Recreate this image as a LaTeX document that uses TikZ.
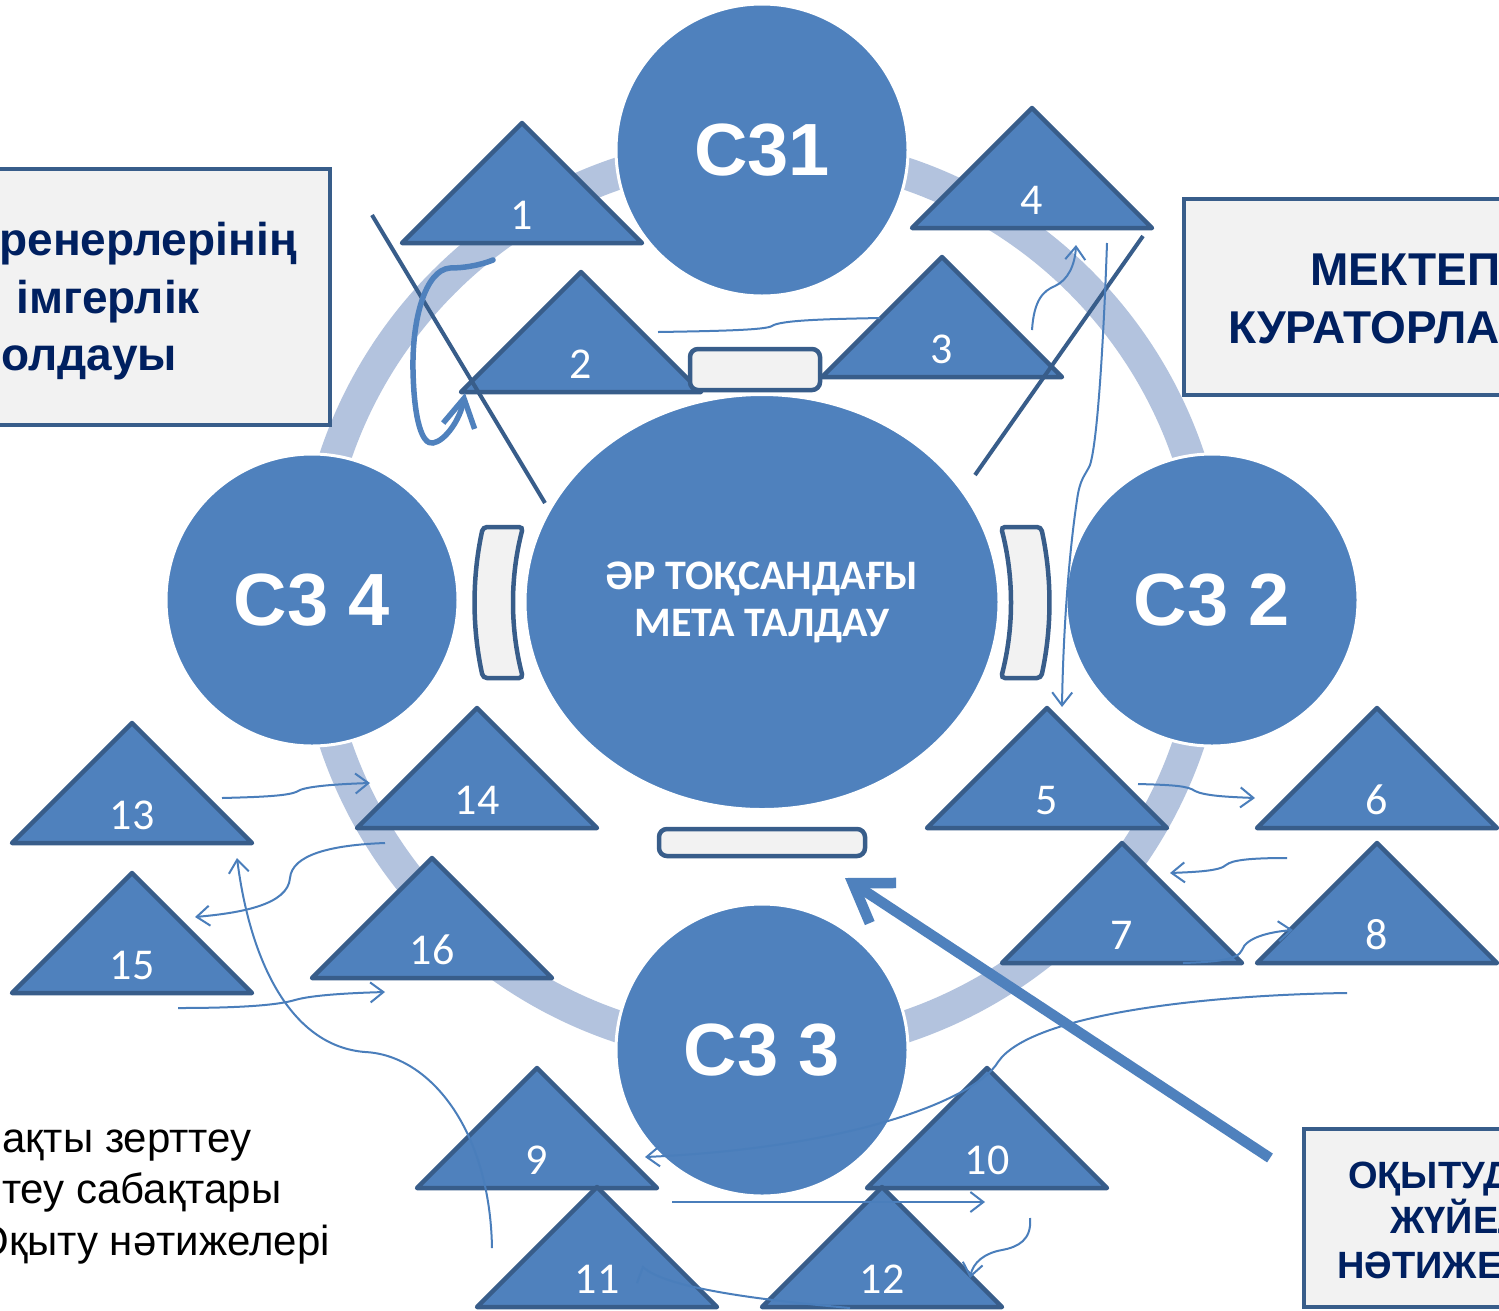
\documentclass[tikz,border=0pt]{standalone}
\usepackage{fontspec}
\setmainfont{Liberation Sans}
\newfontfamily\calibri{Carlito}
\usetikzlibrary{arrows.meta,shapes.geometric}
\definecolor{mainblue}{HTML}{4F81BD}
\definecolor{darkline}{HTML}{385D8A}
\definecolor{ringblue}{HTML}{B3C3DE}
\definecolor{connblue}{HTML}{4A7EBB}
\definecolor{navy}{HTML}{002060}
\definecolor{boxgray}{HTML}{F2F2F2}
\newcommand\mytri[4]{%
  \path[tripath] ({#2-120},#3) -- (#2,{#3-120}) -- ({#2+120},#3) -- cycle;
  \node[trilabel] (#1) at (#2,{#3-14}) {#4};}
\begin{document}
\begin{tikzpicture}[x=1pt,y=-1pt,
  bigcircle/.style={circle, fill=mainblue, draw=white, line width=3pt, minimum size=292pt, inner sep=0pt, text=white, font=\bfseries\fontsize{74}{80}\selectfont},
  tripath/.style={fill=mainblue, draw=darkline, line width=4.5pt, line join=round},
  trilabel/.style={text=white, font=\calibri\fontsize{44}{48}\selectfont, anchor=base, inner sep=0pt},
  grayshape/.style={fill=boxgray, draw=darkline, line width=4.5pt, rounded corners=8pt},
  textbox/.style={fill=boxgray, draw=darkline, line width=4pt, inner sep=0pt},
  boxtext/.style={text=navy, font=\bfseries\fontsize{46}{52}\selectfont, inner sep=0pt},
  smalltext/.style={text=navy, font=\bfseries\fontsize{38}{44}\selectfont, inner sep=0pt, anchor=base west},
  plaintext/.style={text=black, font=\fontsize{42}{48}\selectfont, inner sep=0pt, anchor=base east},
  conn/.style={draw=connblue, line width=2pt, -{Straight Barb[length=13pt,width=20pt]}},
  conn0/.style={draw=connblue, line width=2pt},
  crossline/.style={draw=darkline, line width=4pt},
  thickarrow/.style={draw=mainblue, line width=5.5pt, line cap=round, -{Straight Barb[length=28pt,width=32pt]}},
  bigarrow/.style={draw=mainblue, line width=10.5pt, -{Straight Barb[length=36pt,width=48pt]}},
]
\useasboundingbox (0,0) rectangle (1499,1310);
\clip (0,0) rectangle (1499,1310);
\fill[white] (0,0) rectangle (1499,1310);

% ring
\draw[ringblue, line width=32pt] (762,600) circle[radius=450pt];

% circles
\node[bigcircle] (c1) at (762,150) {C31};
\node[bigcircle] (c2) at (1212,600) {C3 2};
\node[bigcircle] (c3) at (762,1050) {C3 3};
\node[bigcircle] (c4) at (312,600) {C3 4};

% central ellipse
\node[ellipse, fill=mainblue, draw=white, line width=3pt, minimum width=474pt, minimum height=415pt, inner sep=0pt, text=white, align=center, font=\calibri\bfseries\fontsize{42}{47}\selectfont] (meta) at (762,602) {ӘР ТОҚСАНДАҒЫ\\МЕТА ТАЛДАУ};

% triangles
\mytri{t1}{522}{243}{1}
\mytri{t2}{581}{392}{2}
\mytri{t3}{942}{377}{3}
\mytri{t4}{1032}{228}{4}
\mytri{t5}{1047}{828}{5}
\mytri{t6}{1377}{828}{6}
\mytri{t7}{1122}{963}{7}
\mytri{t8}{1377}{963}{8}
\mytri{t9}{537}{1188}{9}
\mytri{t10}{987}{1188}{10}
\mytri{t11}{597}{1307}{11}
\mytri{t12}{882}{1307}{12}
\mytri{t13}{132}{843}{13}
\mytri{t14}{477}{828}{14}
\mytri{t15}{132}{993}{15}
\mytri{t16}{432}{978}{16}

% gray rectangles and brackets
\node[grayshape, minimum width=130pt, minimum height=41pt, inner sep=0pt] (rtop) at (755,369.5) {};
\node[grayshape, minimum width=206pt, minimum height=27pt, inner sep=0pt] (rbot) at (762,842.5) {};
\path[grayshape, rounded corners=4pt] (483,527) .. controls (472,577) and (472,628) .. (483,678) -- (523,678) .. controls (510,628) and (510,577) .. (523,527) -- cycle;
\path[grayshape, rounded corners=4pt] (1041,527) .. controls (1052,577) and (1052,628) .. (1041,678) -- (1001,678) .. controls (1014,628) and (1014,577) .. (1001,527) -- cycle;

% text boxes
\node[textbox, anchor=north west, minimum width=348pt, minimum height=256pt] (lbox) at (-20,167) {};
\node[boxtext, anchor=base east] (l1) at (297,255) {ренерлерінің};
\node[boxtext, anchor=base east] (l2) at (200,313) {імгерлік};
\node[boxtext, anchor=base west] (l3) at (1,370) {олдауы};

\node[textbox, anchor=north west, minimum width=338pt, minimum height=196pt] (rbox) at (1182,197) {};
\node[boxtext, anchor=base west] (r1) at (1310,285) {МЕКТЕП};
\node[boxtext, anchor=base west] (r2) at (1228,343) {КУРАТОРЛА};

\node[textbox, anchor=north west, minimum width=218pt, minimum height=178pt] (bbox) at (1302,1127) {};
\node[smalltext] (b1) at (1348,1188) {ОҚЫТУД};
\node[smalltext] (b2) at (1390,1233) {ЖҮЙЕЛ};
\node[smalltext] (b3) at (1337,1278) {НӘТИЖЕЛ};

% bottom-left list
\node[plaintext, anchor=base west] (s1) at (2,1152) {ақты зерттеу};
\node[plaintext, anchor=base west] (s2) at (2,1203) {теу сабақтары};
\node[plaintext] (s3) at (330,1255) {Оқыту нәтижелері};

% crossing lines
\coordinate (x1) at (372,215); \coordinate (x2) at (545,503);
\coordinate (x3) at (1143,236); \coordinate (x4) at (975,475);
\draw[crossline] (x1) -- (x2);
\draw[crossline] (x3) -- (x4);

% connectors
\coordinate (a5) at (1138,784); \coordinate (a6) at (1255,798);
\draw[conn] (a5) .. controls (1175,785) and (1188,786) .. (1195,791) .. controls (1205,796) and (1230,797) .. (a6);

\coordinate (b8) at (1287,858); \coordinate (b7) at (1170,873);
\draw[conn] (b8) .. controls (1250,858) and (1232,860) .. (1226,865) .. controls (1220,871) and (1195,872) .. (b7);

\coordinate (c7) at (1183,963); \coordinate (c8) at (1293,930);
\draw[conn] (c7) .. controls (1215,962) and (1238,960) .. (1242,950) .. controls (1246,938) and (1268,932) .. (c8);

\coordinate (d1) at (1347,993); \coordinate (d9) at (645,1157);
\draw[conn] (d1) .. controls (1200,995) and (1030,1015) .. (998,1062) .. controls (975,1100) and (850,1148) .. (d9);

\coordinate (e1) at (672,1202); \coordinate (e2) at (985,1202);
\draw[conn] (e1) -- (e2);

\coordinate (f1) at (1030,1218); \coordinate (f2) at (970,1278);
\draw[conn] (f1) .. controls (1032,1240) and (1018,1247) .. (1002,1250) .. controls (985,1253) and (973,1262) .. (f2);

\coordinate (g1) at (850,1308); \coordinate (g2) at (643,1267); \coordinate (g3) at (637,1283);
\draw[conn0] (g1) .. controls (760,1300) and (665,1288) .. (g2) -- (g3);

\coordinate (h1) at (492,1248); \coordinate (h2) at (237,858);
\draw[conn] (h1) .. controls (490,1130) and (430,1055) .. (365,1052) .. controls (290,1046) and (250,960) .. (h2);

\coordinate (i1) at (385,843); \coordinate (i2) at (195,917);
\draw[conn] (i1) .. controls (330,845) and (292,855) .. (290,878) .. controls (288,905) and (240,913) .. (i2);

\coordinate (j1) at (222,798); \coordinate (j2) at (370,783);
\draw[conn] (j1) .. controls (260,797) and (290,796) .. (298,791) .. controls (306,786) and (340,784) .. (j2);

\coordinate (k1) at (178,1008); \coordinate (k2) at (385,992);
\draw[conn] (k1) .. controls (230,1008) and (275,1006) .. (295,1000) .. controls (312,995) and (350,993) .. (k2);

\coordinate (l1c) at (1032,330); \coordinate (l2c) at (1076,245);
\draw[conn] (l1c) .. controls (1034,300) and (1043,291) .. (1055,286) .. controls (1068,280) and (1075,265) .. (l2c);

\coordinate (m1) at (1107,243); \coordinate (m2) at (1062,707);
\draw[conn] (m1) .. controls (1104,330) and (1098,440) .. (1090,465) .. controls (1085,476) and (1080,478) .. (1077,500) .. controls (1068,560) and (1063,640) .. (m2);

\coordinate (n1) at (658,332); \coordinate (n2) at (880,318);
\draw[conn0] (n1) .. controls (720,331) and (765,330) .. (772,326) .. controls (780,320) and (830,319) .. (n2);

% thick curved arrow
\coordinate (o1) at (493,260); \coordinate (o2) at (465,393);
\draw[thickarrow] (o1) .. controls (478,266) and (462,268) .. (450,268) .. controls (425,270) and (412,320) .. (413,370) .. controls (414,420) and (422,445) .. (433,443) .. controls (445,441) and (460,420) .. (o2);

% big arrow
\coordinate (p1) at (1270,1158); \coordinate (p2) at (845,878);
\draw[bigarrow] (p1) -- (p2);
\end{tikzpicture}
\end{document}
